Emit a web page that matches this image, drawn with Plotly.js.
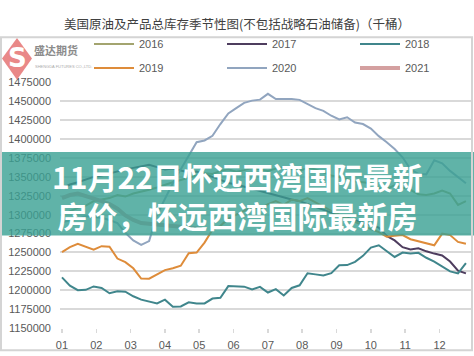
<!DOCTYPE html>
<html><head><meta charset="utf-8">
<script src="https://cdn.plot.ly/plotly-3.0.1.min.js"></script>
<style>html,body{margin:0;padding:0;background:#fff}#c{width:474px;height:356px}</style>
</head><body><div id="c"></div>
<script>
const weeks = [1,2,3,4,5,6,7,8,9,10,11,12,13,14,15,16,17,18,19,20,21,22,23,24,25,26,27,28,29,30,31,32,33,34,35,36,37,38,39,40,41,42,43,44,45,46,47,48,49,50,51,52];
const monthTickWeeks = [1,5.33,9.67,14,18.33,22.67,27,31.33,35.67,40,44.33,48.67];
const monthLabels = ["01","02","03","04","05","06","07","08","09","10","11","12"];
const seriesNames = ["2016","2017","2018","2019","2020","2021"];

const y2016 = [1300000,1305000,1309000,1312000,1318000,1320000,1322000,1326000,1324000,1328000,
1330000,1333000,1336000,1340000,1343000,1346000,1349000,1352000,1355000,1354000,
1358000,1360000,1357000,1359000,1362000,1360000,1358000,1361000,1363000,1360000,
1358000,1362000,1360000,1356000,1352000,1350000,1347000,1344000,1343000,1341700,
1335000,1334000,1339000,1336000,1333000,1327000,1326000,1328000,1332000,1328000,
1313000,1318000];
const y2017 = [1335000,1340000,1343000,1347000,1350000,1352000,1355000,1358000,1360000,1362000,
1364000,1366000,1363000,1360000,1361000,1358000,1356000,1357000,1354000,1350000,
1346000,1342000,1340000,1337000,1335000,1331000,1328000,1325000,1322000,1320000,
1318000,1314000,1310000,1306000,1303000,1299000,1296000,1293000,1290000,1287000,
1283000,1272000,1266000,1257000,1254000,1255600,1251500,1248500,1246000,1238000,
1226000,1222300];
const y2018 = [1217000,1206000,1200000,1200500,1205000,1203000,1196000,1198500,1198000,1192000,
1187500,1185000,1182500,1187500,1178000,1178500,1184000,1182500,1182500,1189000,
1190000,1205500,1204700,1204700,1201000,1204500,1197000,1201500,1193000,1203000,
1206500,1222500,1221000,1219500,1222500,1233000,1233300,1237500,1245500,1256500,
1259500,1251500,1244000,1249800,1248600,1249500,1243000,1238000,1232000,1225000,
1222300,1236000];
const y2019 = [1250500,1257000,1261500,1257700,1253600,1258300,1257700,1241900,1237200,1229000,
1215500,1215300,1220800,1226600,1229000,1232500,1249000,1249800,1263000,1280000,
1285300,1294700,1300000,1305000,1310000,1308000,1314000,1318000,1313000,1320000,
1318000,1322000,1316000,1310000,1305000,1300000,1295000,1290000,1286000,1281000,
1277000,1271000,1272000,1273000,1267500,1265000,1262000,1259500,1275000,1273000,
1264000,1261500];
const y2020 = [1290000,1292000,1295000,1298000,1297000,1296000,1293000,1289000,1276000,1266000,
1260000,1265000,1300000,1322000,1342000,1360000,1378000,1396000,1398300,1404500,
1420000,1434000,1441000,1448000,1451000,1452300,1460000,1453000,1453000,1453200,
1452000,1447000,1441000,1437500,1431000,1426000,1429000,1422000,1420000,1414000,
1404000,1396000,1387000,1376000,1360000,1354000,1353400,1372000,1368000,1358000,
1350000,1341700];
const y2021 = [1322000,1326000,1328000,1325000,1322000,1318000,1314000,1308000,1299000,1293000,
1289000,1288000,1287000,1287000,1286000,1285000,1283000,1282000,1281000];

const colors = ["#a3a46f","#4e3d5e","#40868c","#de8c3a","#91a5bf","#d4a0a0"];
const widths = [2,2,2,2,2,4];
const values = [y2016,y2017,y2018,y2019,y2020,y2021];
const legendIds = ['legend','legend2','legend3','legend4','legend5','legend6'];

const traces = values.map((v,k)=>({
  type:'scatter', mode:'lines', name:seriesNames[k],
  x: weeks.slice(0, v.length), y: v,
  line:{color:colors[k], width:widths[k]},
  legend: legendIds[k],
  hoverinfo:'skip'
}));

// pixel helpers for decorations (plot area: l=60, t=52, w=411, h=276)
const px = x => (x-60)/411;
const py = y => 1-(y-52)/276;

const legendCols = [89, 222, 355];
const legendRows = [44, 68];
const legendBase = {orientation:'h', xref:'container', yref:'container', xanchor:'left', yanchor:'middle',
  bgcolor:'rgba(0,0,0,0)', itemwidth:40,
  font:{size:11, color:'#595959', family:'Liberation Sans, Arial, sans-serif'}};

const bannerText = '<b>11月22日怀远西湾国际最新</b><br><b>房价，怀远西湾国际最新房</b>';

const layout = {
  width:474, height:356,
  margin:{l:60, r:3, t:52, b:28},
  paper_bgcolor:'#fff', plot_bgcolor:'#fff',
  font:{family:'Liberation Sans, Arial, Noto Sans CJK SC, sans-serif', color:'#595959', size:11},
  title:{text:'美国原油及产品总库存季节性图(不包括战略石油储备)（千桶）',
    font:{size:12.5, color:'#404040', family:'Noto Sans CJK SC, sans-serif'},
    x:0.5, xref:'container', xanchor:'center', y:1-25/356, yref:'container', yanchor:'middle'},
  showlegend:true,
  xaxis:{range:[0.75,52.64], tickmode:'array', tickvals:monthTickWeeks, ticktext:monthLabels,
    ticks:'outside', ticklen:4, tickcolor:'#d9d9d9', tickwidth:1.5, showgrid:false, zeroline:false, showline:false,
    tickfont:{size:11, color:'#595959'}, ticklabelstandoff:3},
  yaxis:{range:[1150000,1475000], tick0:1150000, dtick:25000, tickformat:'d',
    gridcolor:'#d9d9d9', gridwidth:2, zeroline:false, showline:false, ticks:'',
    tickfont:{size:11, color:'#595959'}, ticklabelstandoff:8},
  shapes:[
    {type:'rect', xref:'paper', yref:'paper', x0:px(-5), x1:px(480), y0:py(224), y1:py(130),
      fillcolor:'rgba(56,160,146,0.8)', line:{width:0}, layer:'above'},
    {type:'path', xref:'paper', yref:'paper',
      path:'M '+px(17)+','+py(2)+' L '+px(32)+','+py(25)+' L '+px(17)+','+py(49)+' L '+px(2)+','+py(25)+' Z',
      fillcolor:'rgba(226,96,96,0.75)', line:{width:0}, layer:'above'},
    {type:'rect', xref:'paper', yref:'paper', x0:px(1), x1:px(472), y0:py(353), y1:py(1),
      fillcolor:'rgba(0,0,0,0)', line:{color:'#d4d4d4', width:2}, layer:'above'}
  ],
  annotations:[
    {xref:'paper', yref:'paper', x:px(237), y:py(179.5), text:bannerText, showarrow:false, align:'center',
      font:{size:30, color:'#ffffff', family:'Noto Sans CJK SC, sans-serif'}, xanchor:'center', yanchor:'middle'},
    {xref:'paper', yref:'paper', x:px(17), y:py(25), text:'<b>S</b>', showarrow:false,
      font:{size:26, color:'#ffffff', family:'DejaVu Sans, sans-serif'}, xanchor:'center', yanchor:'middle'},
    {xref:'paper', yref:'paper', x:px(32), y:py(15), text:'<b>盛达期货</b>', showarrow:false,
      font:{size:11, color:'#8c8c8c', family:'Noto Sans CJK SC, sans-serif'}, xanchor:'left', yanchor:'middle'},
    {xref:'paper', yref:'paper', x:px(33), y:py(34), text:'SHENGDA FUTURES CO.,LTD.', showarrow:false,
      font:{size:4, color:'#aaaaaa'}, xanchor:'left', yanchor:'middle'}
  ]
};
legendIds.forEach((id,k)=>{
  layout[id] = Object.assign({}, legendBase, {x: legendCols[k%3]/474, y: 1 - legendRows[Math.floor(k/3)]/356});
});

Plotly.newPlot('c', traces, layout, {staticPlot:true, displayModeBar:false});
</script>
</body></html>
